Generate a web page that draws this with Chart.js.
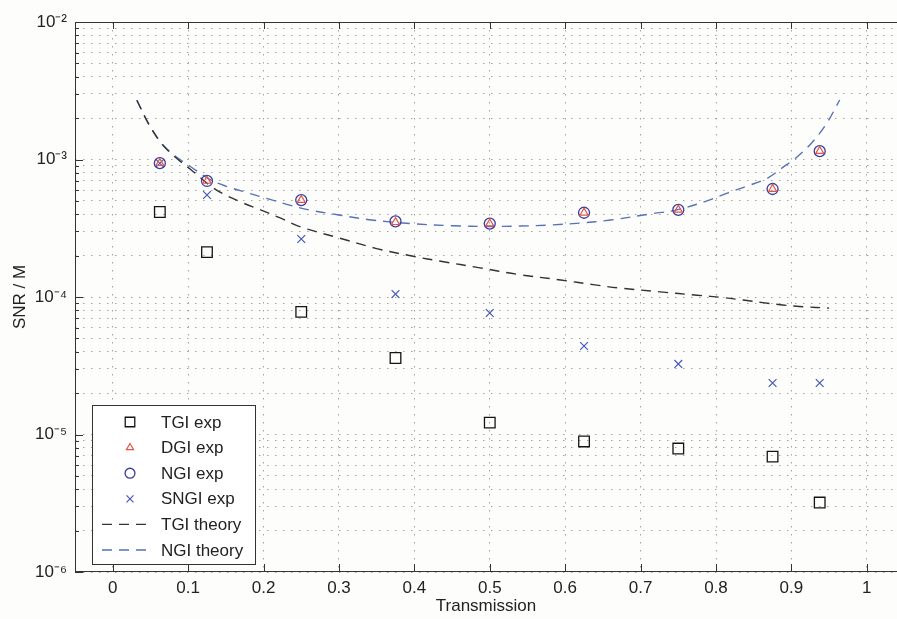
<!DOCTYPE html>
<html>
<head>
<meta charset="utf-8">
<script src="https://cdn.jsdelivr.net/npm/chart.js"></script>
<style>
html,body{margin:0;padding:0;background:#fdfdfb;}
#wrap{width:897px;height:619px;position:relative;}
</style>
</head>
<body>
<div id="wrap"><canvas id="c"></canvas></div>
<script>
// ---- data ----
const transmission = [0.0625, 0.125, 0.25, 0.375, 0.5, 0.625, 0.75, 0.875, 0.9375];
const tgiExp  = [4.15e-4, 2.12e-4, 7.8e-5, 3.6e-5, 1.22e-5, 8.9e-6, 7.9e-6, 6.9e-6, 3.2e-6];
const dgiExp  = [9.4e-4, 6.98e-4, 5.07e-4, 3.5e-4, 3.42e-4, 4.1e-4, 4.3e-4, 6.1e-4, 1.15e-3];
const ngiExp  = [9.4e-4, 6.98e-4, 5.07e-4, 3.55e-4, 3.42e-4, 4.1e-4, 4.3e-4, 6.1e-4, 1.15e-3];
const sngiExp = [9.4e-4, 5.52e-4, 2.64e-4, 1.05e-4, 7.65e-5, 4.4e-5, 3.26e-5, 2.37e-5, 2.37e-5];

const tgiTheoryT = [0.032, 0.048, 0.064, 0.081, 0.103, 0.13, 0.147, 0.17, 0.196, 0.222, 0.25, 0.30, 0.35, 0.40, 0.435, 0.487, 0.537, 0.594, 0.637, 0.673, 0.726, 0.775, 0.81, 0.836, 0.862, 0.888, 0.915, 0.95];
const tgiTheory  = [2.7e-3, 1.8e-3, 1.32e-3, 1.06e-3, 8.5e-4, 6.4e-4, 5.6e-4, 4.9e-4, 4.3e-4, 3.76e-4, 3.22e-4, 2.69e-4, 2.25e-4, 1.97e-4, 1.82e-4, 1.63e-4, 1.46e-4, 1.33e-4, 1.23e-4, 1.16e-4, 1.09e-4, 1.03e-4, 9.9e-5, 9.5e-5, 9.1e-5, 8.75e-5, 8.5e-5, 8.3e-5];

const ngiTheoryT = [0.032, 0.048, 0.064, 0.081, 0.103, 0.13, 0.15, 0.18, 0.205, 0.232, 0.26, 0.30, 0.34, 0.395, 0.45, 0.50, 0.54, 0.58, 0.62, 0.66, 0.717, 0.748, 0.788, 0.815, 0.841, 0.868, 0.889, 0.907, 0.928, 0.947, 0.964];
const ngiTheory  = [2.7e-3, 1.8e-3, 1.33e-3, 1.08e-3, 8.9e-4, 7.1e-4, 6.4e-4, 5.7e-4, 5.2e-4, 4.7e-4, 4.3e-4, 3.95e-4, 3.65e-4, 3.42e-4, 3.3e-4, 3.26e-4, 3.28e-4, 3.34e-4, 3.45e-4, 3.63e-4, 4.05e-4, 4.3e-4, 5.0e-4, 5.7e-4, 6.4e-4, 7.3e-4, 8.8e-4, 1.04e-3, 1.34e-3, 1.84e-3, 2.71e-3];

const xTicks = [0, 0.1, 0.2, 0.3, 0.4, 0.5, 0.6, 0.7, 0.8, 0.9, 1];
const xTickLabels = ['0', '0.1', '0.2', '0.3', '0.4', '0.5', '0.6', '0.7', '0.8', '0.9', '1'];
const yTicks = [
  1e-6, 2e-6, 3e-6, 4e-6, 5e-6, 6e-6, 7e-6, 8e-6, 9e-6,
  1e-5, 2e-5, 3e-5, 4e-5, 5e-5, 6e-5, 7e-5, 8e-5, 9e-5,
  1e-4, 2e-4, 3e-4, 4e-4, 5e-4, 6e-4, 7e-4, 8e-4, 9e-4,
  1e-3, 2e-3, 3e-3, 4e-3, 5e-3, 6e-3, 7e-3, 8e-3, 9e-3,
  1e-2
];
const yMajor = [1e-6, 1e-5, 1e-4, 1e-3, 1e-2];
const yTickLabels = ['10\u207B\u2076', '10\u207B\u2075', '10\u207B\u2074', '10\u207B\u00B3', '10\u207B\u00B2'];

const labels = ['TGI exp', 'DGI exp', 'NGI exp', 'SNGI exp', 'TGI theory', 'NGI theory'];

// ---- helpers ----
const pts = (xs, ys) => xs.map((x, i) => ({x: x, y: ys[i]}));
const FONT = '"Liberation Sans", Arial, Helvetica, sans-serif';
const TXT = '#222';
const FS = 17;

Chart.defaults.font.family = FONT;
Chart.defaults.font.size = FS;
Chart.defaults.color = TXT;

const datasets = [
  {label: labels[0], data: pts(transmission, tgiExp), pointStyle: 'rect', pointRadius: 7.5,
   borderColor: '#151515', backgroundColor: 'rgba(0,0,0,0)', pointBorderWidth: 1.3, showLine: false},
  {label: labels[1], data: pts(transmission, dgiExp), pointStyle: 'triangle', pointRadius: 4.6,
   borderColor: '#e0564b', backgroundColor: 'rgba(0,0,0,0)', pointBorderWidth: 1.2, showLine: false},
  {label: labels[2], data: pts(transmission, ngiExp), pointStyle: 'circle', pointRadius: 5.5,
   borderColor: '#3b3b9e', backgroundColor: 'rgba(0,0,0,0)', pointBorderWidth: 1.3, showLine: false},
  {label: labels[3], data: pts(transmission, sngiExp), pointStyle: 'crossRot', pointRadius: 5.5,
   borderColor: '#4658b8', backgroundColor: 'rgba(0,0,0,0)', pointBorderWidth: 1.2, showLine: false},
  {label: labels[4], data: pts(tgiTheoryT, tgiTheory), showLine: true, pointRadius: 0,
   borderColor: '#333333', borderWidth: 1.4, borderDash: [10, 7], tension: 0.35, fill: false},
  {label: labels[5], data: pts(ngiTheoryT, ngiTheory), showLine: true, pointRadius: 0,
   borderColor: '#5672b8', borderWidth: 1.4, borderDash: [10, 7], tension: 0.35, fill: false}
];

function markerPath(ctx, style, r, x, y) {
  ctx.beginPath();
  if (style === 'rect') {
    const s = r * Math.SQRT1_2;
    ctx.rect(x - s, y - s, 2 * s, 2 * s);
  } else if (style === 'triangle') {
    for (let k = 0; k < 3; k++) {
      const ang = k * 2 * Math.PI / 3;
      const px = x + Math.sin(ang) * r, py = y - Math.cos(ang) * r;
      if (k === 0) ctx.moveTo(px, py); else ctx.lineTo(px, py);
    }
    ctx.closePath();
  } else if (style === 'circle') {
    ctx.arc(x, y, r, 0, Math.PI * 2);
  } else if (style === 'crossRot') {
    const d = r * Math.SQRT1_2;
    ctx.moveTo(x - d, y - d); ctx.lineTo(x + d, y + d);
    ctx.moveTo(x - d, y + d); ctx.lineTo(x + d, y - d);
  }
  ctx.stroke();
}

const framePlugin = {
  id: 'frame',
  afterDraw(chart) {
    const {ctx, chartArea: a, scales} = chart;
    const xs = scales.x, ys = scales.y;
    ctx.save();
    ctx.setLineDash([]);
    ctx.strokeStyle = '#333';
    ctx.lineWidth = 1;
    ctx.beginPath();
    ctx.moveTo(a.left, a.top + 0.5); ctx.lineTo(a.right, a.top + 0.5);
    ctx.moveTo(a.left + 0.5, a.top); ctx.lineTo(a.left + 0.5, a.bottom);
    ctx.moveTo(a.left, a.bottom - 0.5); ctx.lineTo(a.right, a.bottom - 0.5);
    xs.ticks.forEach(t => {
      const px = Math.round(xs.getPixelForValue(t.value)) + 0.5;
      ctx.moveTo(px, a.bottom); ctx.lineTo(px, a.bottom - 8);
      ctx.moveTo(px, a.top); ctx.lineTo(px, a.top + 7);
    });
    ys.ticks.forEach(t => {
      const py = Math.round(ys.getPixelForValue(t.value)) + 0.5;
      const len = yMajor.indexOf(t.value) >= 0 ? 8 : 4;
      ctx.moveTo(a.left, py); ctx.lineTo(a.left + len, py);
    });
    ctx.stroke();

    // legend box (bottom-left inside the axes)
    const bw = 163, bh = 159;
    const bx = a.left + 17, by = a.bottom - 8 - bh;
    ctx.fillStyle = '#ffffff';
    ctx.fillRect(bx, by, bw, bh);
    ctx.strokeStyle = '#333';
    ctx.strokeRect(bx + 0.5, by + 0.5, bw, bh);
    ctx.font = FS + 'px ' + FONT;
    ctx.textBaseline = 'middle';
    ctx.textAlign = 'left';
    chart.data.datasets.forEach((ds, i) => {
      const ry = by + 17 + i * 25.6;
      const mx = bx + 38;
      ctx.strokeStyle = ds.borderColor;
      if (ds.showLine) {
        ctx.lineWidth = ds.borderWidth;
        ctx.setLineDash([10, 7]);
        ctx.beginPath();
        ctx.moveTo(bx + 10, ry); ctx.lineTo(bx + 60, ry);
        ctx.stroke();
        ctx.setLineDash([]);
      } else {
        ctx.lineWidth = ds.pointBorderWidth;
        markerPath(ctx, ds.pointStyle, ds.pointRadius * 0.9, mx, ry);
      }
      ctx.fillStyle = TXT;
      ctx.fillText(ds.label, bx + 69, ry + 1);
    });
    ctx.restore();
  }
};

new Chart(document.getElementById('c'), {
  type: 'scatter',
  data: {datasets: datasets},
  plugins: [framePlugin],
  options: {
    responsive: true,
    maintainAspectRatio: false,
    animation: false,
    events: [],
    layout: {autoPadding: false, padding: {top: 22, left: 0, right: 0, bottom: 0}},
    plugins: {legend: {display: false}, tooltip: {enabled: false}},
    scales: {
      x: {
        type: 'linear', min: -0.05, max: 1.04,
        afterBuildTicks: s => { s.ticks = xTicks.map(v => ({value: v})); },
        afterFit: s => { s.height = 47; s.paddingLeft = 0; s.paddingRight = 0; },
        ticks: {autoSkip: false, maxRotation: 0, padding: 6, color: TXT, font: {size: FS},
                callback: (v, i) => xTickLabels[i]},
        grid: {color: '#a3a3a3', lineWidth: 1, drawTicks: false},
        border: {display: false, dash: [1.5, 6.5]},
        title: {display: true, text: 'Transmission', color: TXT, font: {size: FS}, padding: {top: 0, bottom: 2}}
      },
      y: {
        type: 'logarithmic', min: 1e-6, max: 1e-2,
        afterBuildTicks: s => { s.ticks = yTicks.map(v => ({value: v, major: yMajor.indexOf(v) >= 0})); },
        afterFit: s => { s.width = 75; },
        ticks: {autoSkip: false, padding: 8, color: TXT, font: {size: FS},
                callback: (v) => { const k = yMajor.indexOf(v); return k >= 0 ? yTickLabels[k] : ''; }},
        grid: {color: '#a3a3a3', lineWidth: 1, drawTicks: false},
        border: {display: false, dash: [1.5, 6.5]},
        title: {display: true, text: 'SNR / M', color: TXT, font: {size: FS}, padding: {top: 10, bottom: 0}}
      }
    }
  }
});
</script>
</body>
</html>
